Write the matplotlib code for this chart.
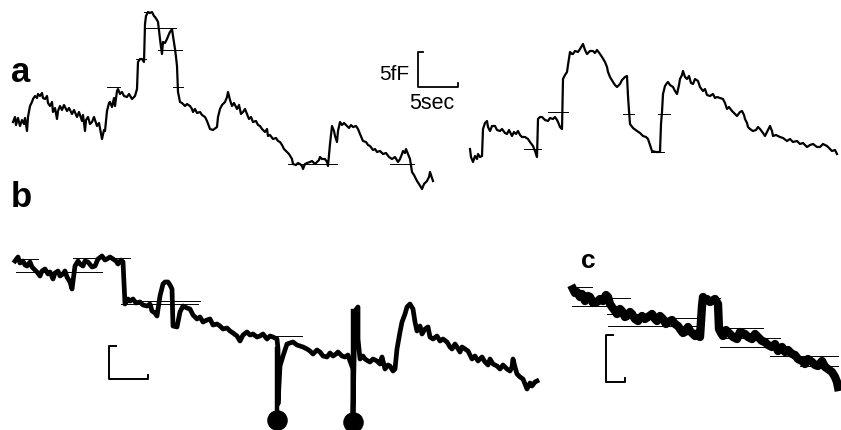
import matplotlib
matplotlib.use("Agg")
import matplotlib.pyplot as plt

# ---- data: traces (x, y in figure pixel units) ----
a1_x = [13, 15, 16, 18, 20, 22, 24, 25, 27, 28, 30, 32, 33, 35, 37, 38, 40, 42, 43, 45,
        47, 48, 50, 52, 53, 55, 57, 58, 60, 62, 64, 67, 69, 72, 74, 77, 79, 82, 83, 85,
        86, 88, 90, 92, 94, 97, 99, 102, 104, 105, 107, 109, 110, 112, 114, 115, 117, 118,
        120, 122, 124, 127, 129, 132, 135, 137, 138, 140, 142, 144, 145, 146, 148, 150,
        152, 154, 155, 157, 158, 159, 160, 161, 162, 163, 165, 167, 169, 170, 172, 173,
        175, 176, 177, 178, 180, 182, 185, 187, 190, 192, 193, 195, 197, 200, 202, 205,
        207, 210, 213, 217, 218, 220, 222, 225, 227, 228, 230, 232, 234, 237, 239, 241,
        243, 245, 247, 249, 251, 253, 256, 258, 260, 262, 265, 267, 268, 270, 273, 276,
        278, 280, 282, 284, 287, 289, 292, 293, 296, 298, 300, 302, 303, 305, 307, 310,
        312, 315, 317, 319, 320, 322, 325, 327, 328, 330, 332, 334, 335, 337, 338, 340,
        342, 344, 347, 349, 351, 353, 356, 358, 360, 363, 366, 368, 370, 373, 375, 377,
        380, 383, 386, 389, 392, 395, 398, 400, 402, 403, 405, 406, 408, 410, 412, 414,
        417, 419, 422, 424, 427, 429, 430, 432, 433]
a1_y = [123, 118, 126, 119, 127, 121, 125, 119, 132, 118, 107, 103, 100, 97, 99, 95, 97,
        94, 99, 100, 97, 104, 107, 103, 113, 109, 120, 112, 107, 111, 106, 112, 109, 115,
        111, 118, 113, 122, 116, 132, 121, 118, 125, 123, 118, 127, 124, 140, 131, 132,
        112, 104, 103, 108, 99, 107, 92, 90, 95, 93, 97, 98, 95, 100, 97, 90, 63, 60, 60,
        63, 25, 17, 13, 14, 13, 17, 18, 21, 23, 32, 40, 48, 55, 43, 44, 40, 35, 33, 30,
        37, 50, 58, 67, 93, 103, 104, 107, 105, 107, 110, 113, 110, 114, 113, 116, 118,
        122, 130, 131, 128, 118, 110, 106, 103, 98, 93, 101, 107, 104, 110, 106, 115, 113,
        110, 115, 120, 118, 123, 122, 126, 127, 130, 133, 130, 137, 136, 140, 139, 142,
        143, 146, 150, 153, 155, 160, 165, 166, 164, 165, 167, 170, 165, 164, 163, 162,
        165, 163, 161, 158, 160, 160, 163, 167, 145, 127, 132, 137, 143, 132, 123, 126,
        124, 127, 129, 126, 128, 127, 130, 135, 142, 143, 146, 147, 151, 150, 153, 152,
        155, 154, 158, 160, 158, 163, 160, 155, 152, 154, 150, 155, 160, 173, 176, 182,
        185, 190, 185, 182, 178, 173, 179, 182]

a2_x = [470, 471, 473, 475, 477, 478, 480, 482, 483, 485, 487, 488, 490, 492, 495, 497,
        500, 502, 505, 507, 509, 512, 514, 516, 518, 520, 522, 525, 528, 530, 533, 535,
        537, 538, 540, 542, 545, 548, 550, 553, 555, 557, 558, 560, 562, 563, 565, 567,
        568, 570, 572, 573, 575, 578, 580, 583, 585, 587, 590, 593, 595, 597, 600, 602,
        605, 607, 608, 610, 613, 615, 617, 619, 620, 622, 623, 625, 627, 628, 629, 630,
        633, 637, 640, 643, 646, 648, 650, 652, 656, 660, 661, 662, 663, 665, 667, 668,
        670, 673, 675, 677, 679, 680, 682, 683, 685, 687, 689, 691, 693, 695, 698, 700,
        703, 705, 707, 710, 713, 715, 717, 720, 723, 725, 727, 729, 732, 735, 737, 740,
        742, 744, 745, 747, 748, 750, 753, 756, 758, 760, 763, 765, 767, 770, 772, 773,
        776, 780, 783, 787, 790, 793, 797, 800, 803, 807, 810, 813, 817, 820, 823, 827,
        830, 832, 835, 837]
a2_y = [150, 158, 163, 157, 160, 155, 158, 157, 130, 124, 122, 128, 132, 127, 127, 131,
        132, 130, 134, 135, 131, 137, 133, 135, 132, 136, 138, 138, 140, 143, 147, 152,
        158, 120, 118, 118, 121, 122, 119, 120, 118, 121, 123, 128, 130, 80, 76, 73, 66,
        53, 55, 55, 52, 53, 50, 45, 51, 55, 52, 52, 54, 51, 55, 58, 63, 68, 73, 78, 83,
        86, 88, 86, 85, 81, 80, 78, 77, 97, 112, 125, 129, 132, 134, 137, 138, 140, 146,
        152, 153, 153, 125, 113, 95, 87, 84, 83, 86, 88, 92, 95, 86, 80, 76, 72, 78, 80,
        77, 84, 85, 80, 82, 88, 92, 90, 96, 97, 95, 99, 98, 99, 100, 104, 110, 108, 112,
        115, 117, 113, 112, 116, 120, 124, 128, 130, 132, 131, 128, 130, 134, 137, 133,
        127, 132, 137, 136, 138, 139, 142, 140, 143, 142, 145, 144, 148, 146, 145, 148,
        148, 145, 147, 150, 152, 151, 155]

b_x = [15, 18, 20, 23, 25, 27, 30, 32, 35, 37,
       40, 42, 45, 48, 50, 53, 55, 58, 60, 63,
       65, 67, 70, 72, 75, 78, 80, 83, 85, 88,
       92, 95, 98, 102, 105, 107, 110, 113, 116, 118,
       121, 123, 125, 128, 130, 133, 136, 140, 143, 147,
       150, 152, 155, 157, 160, 163, 165, 168, 170, 172,
       173, 177, 180, 183, 187, 190, 193, 197, 200, 203,
       207, 210, 213, 217, 220, 223, 227, 230, 233, 237,
       240, 243, 247, 250, 253, 257, 260, 263, 267, 270,
       273, 277, 278, 278, 280, 283, 287, 290, 293, 297,
       300, 303, 307, 310, 313, 317, 320, 323, 327, 330,
       333, 336, 338, 342, 345, 348, 350, 353, 353, 355,
       358, 358, 360, 363, 365, 368, 370, 373, 377, 380,
       382, 385, 388, 390, 393, 395, 397, 400, 402, 405,
       407, 410, 413, 415, 417, 420, 422, 425, 428, 430,
       433, 437, 440, 443, 447, 450, 452, 455, 457, 460,
       462, 465, 468, 472, 475, 478, 482, 485, 488, 490,
       493, 497, 500, 503, 507, 510, 512, 513, 515, 517,
       520, 523, 525, 527, 530, 532, 535, 537]
b_y = [262, 258, 264, 262, 266, 267, 263, 268, 271, 273,
       277, 272, 270, 275, 273, 280, 274, 272, 277, 275,
       272, 278, 283, 290, 267, 262, 265, 267, 262, 263,
       268, 267, 260, 257, 261, 260, 258, 260, 262, 265,
       261, 263, 305, 300, 302, 300, 304, 303, 306, 307,
       305, 312, 314, 317, 297, 285, 283, 283, 286, 290,
       327, 328, 313, 307, 309, 310, 316, 320, 318, 323,
       321, 320, 326, 325, 327, 330, 329, 332, 334, 337,
       342, 336, 333, 336, 335, 338, 337, 335, 340, 337,
       338, 340, 350, 405, 367, 357, 345, 344, 343, 346,
       347, 348, 350, 352, 355, 351, 353, 357, 358, 354,
       357, 355, 353, 357, 358, 356, 362, 370, 415, 312,
       308, 340, 360, 357, 360, 362, 363, 360, 362, 365,
       358, 370, 366, 367, 372, 370, 350, 333, 323, 315,
       308, 305, 310, 323, 332, 327, 335, 330, 328, 338,
       340, 337, 342, 340, 343, 348, 350, 345, 348, 353,
       348, 350, 352, 360, 357, 362, 358, 363, 366, 360,
       365, 367, 370, 366, 370, 372, 368, 360, 368, 375,
       378, 380, 385, 390, 384, 387, 383, 382]

c_x = [573, 575, 577, 580, 582, 585, 588, 590, 593, 597, 600, 603, 606, 608, 610, 612,
       615, 617, 620, 622, 625, 627, 630, 632, 635, 638, 642, 645, 648, 652, 655, 657,
       660, 663, 666, 668, 672, 675, 678, 680, 683, 685, 688, 690, 693, 695, 698, 700,
       702, 703, 705, 707, 710, 712, 715, 718, 719, 721, 723, 726, 730, 733, 737, 740,
       745, 748, 752, 755, 758, 762, 765, 768, 772, 775, 778, 782, 785, 788, 792, 795,
       798, 802, 805, 808, 812, 815, 818, 822, 825, 828, 832, 835, 837, 838]
c_y = [290, 294, 293, 298, 295, 302, 297, 298, 304, 303, 300, 302, 296, 298, 305, 308,
       312, 315, 310, 312, 318, 317, 313, 315, 320, 322, 317, 320, 318, 315, 320, 322,
       317, 320, 325, 323, 321, 325, 327, 330, 334, 333, 328, 332, 335, 337, 334, 338,
       307, 298, 301, 300, 303, 302, 300, 305, 330, 334, 337, 331, 335, 338, 340, 333,
       335, 338, 340, 335, 338, 342, 343, 346, 348, 345, 352, 348, 353, 351, 355, 356,
       360, 362, 365, 360, 363, 366, 367, 362, 368, 370, 373, 378, 383, 388]

# step-fit level marks (x start, x end, y)
a_levels = [(107, 120, 88), (136, 146, 60), (144, 152, 13), (145, 176, 29),
            (158, 182, 51), (173, 183, 88), (288, 337, 165), (390, 414, 165),
            (524, 541, 150), (548, 568, 113), (623, 634, 115), (658, 670, 115),
            (651, 664, 153)]
b_levels = [(15, 38, 260), (16, 102, 273), (73, 130, 259), (121, 198, 305),
            (275, 302, 337), (140, 200, 302)]
c_levels = [(572, 592, 288), (572, 610, 307), (608, 630, 299), (607, 660, 315),
            (608, 700, 327), (670, 700, 319), (700, 720, 299), (720, 763, 329),
            (720, 780, 339), (720, 780, 348), (770, 838, 357), (800, 838, 367)]

# stimulus spikes ending in dots
dot_x = [277, 353]
dot_y = [421, 423]

panel_labels = ["a", "b", "c"]

fig = plt.figure(figsize=(8.41, 4.31), dpi=100)
ax = fig.add_axes([0, 0, 1, 1])
ax.set_xlim(0, 841)
ax.set_ylim(431, 0)
ax.axis("off")

k = "black"
ax.plot(a1_x, a1_y, color=k, lw=1.6)
ax.plot(a2_x, a2_y, color=k, lw=1.6)
ax.plot(b_x, b_y, color=k, lw=3.4)
ax.plot(c_x, c_y, color=k, lw=6.0)

for x0, x1, y in a_levels + b_levels + c_levels:
    ax.plot([x0, x1], [y, y], color=k, lw=0.7)

# spikes to the dots
ax.plot([277, 277], [350, dot_y[0]], color=k, lw=3.2)
ax.plot([353, 353], [312, dot_y[1]], color=k, lw=3.2)
ax.scatter(dot_x, dot_y, s=190, color=k, zorder=3)

# scale bars
ax.plot([423, 418, 418, 458, 458], [53, 53, 88, 88, 84], color=k, lw=1.3)
ax.plot([116, 109, 109, 148, 148], [347, 347, 380, 380, 376], color=k, lw=1.4)
ax.plot([613, 606, 606, 625, 625], [336, 336, 383, 383, 379], color=k, lw=1.4)

fam = ["Liberation Sans", "DejaVu Sans"]
ax.text(409, 75, "5fF", ha="right", va="center", fontsize=15, family=fam)
ax.text(432, 104, "5sec", ha="center", va="center", fontsize=15.5, family=fam)

ax.text(21, 72, panel_labels[0], ha="center", va="center", fontsize=25,
        fontweight="bold", family=fam)
ax.text(21, 198, panel_labels[1], ha="center", va="center", fontsize=25,
        fontweight="bold", family=fam)
ax.text(588, 261, panel_labels[2], ha="center", va="center", fontsize=19,
        fontweight="bold", family=fam)

fig.savefig("out.png", dpi=100)
